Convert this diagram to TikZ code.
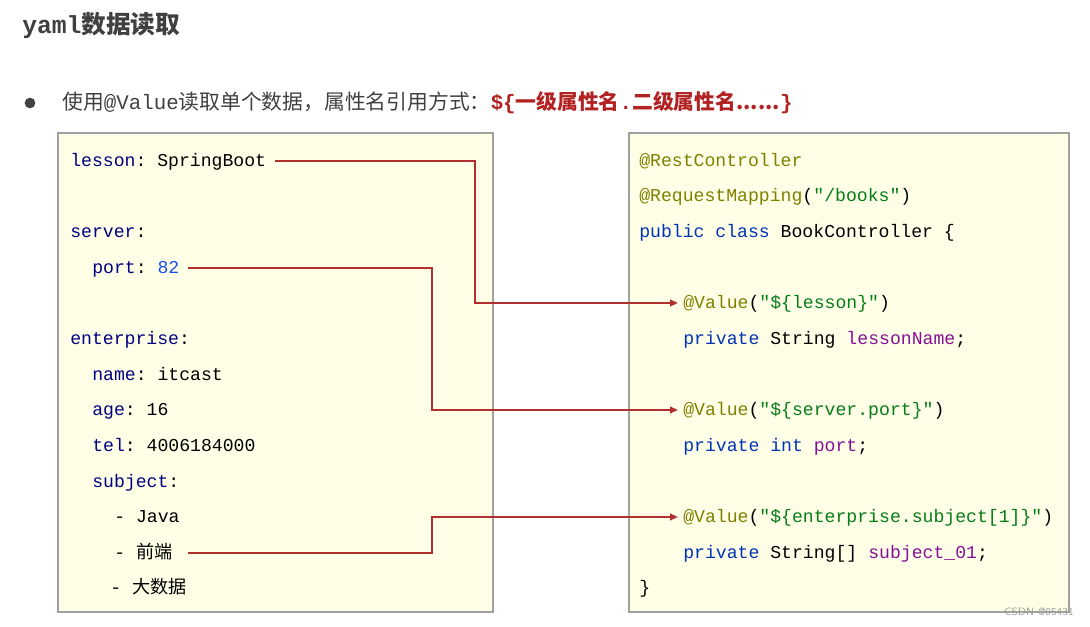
\documentclass[tikz,border=0pt]{standalone}
\usepackage{fontspec}
\setmonofont{Liberation Mono}
\newfontfamily\cjk{Noto Sans CJK SC}
\usetikzlibrary{arrows.meta}
\definecolor{boxfill}{HTML}{FFFFE8}
\definecolor{boxline}{HTML}{A0A0A0}
\definecolor{key}{HTML}{000080}
\definecolor{num}{HTML}{1750EB}
\definecolor{ann}{HTML}{808000}
\definecolor{str}{HTML}{067D17}
\definecolor{kw}{HTML}{0033B3}
\definecolor{fld}{HTML}{871094}
\definecolor{arr}{HTML}{B03030}
\definecolor{gray}{HTML}{404040}
\definecolor{red}{HTML}{B22222}
\begin{document}
\begin{tikzpicture}[x=0.75pt,y=-0.75pt,
  code/.style={anchor=base west,inner sep=0pt,font=\fontsize{13.6}{16}\ttfamily},
  box/.style={draw=boxline,fill=boxfill,line width=0.8pt},
  link/.style={draw=arr,line width=1.4pt,-{Triangle[length=6pt,width=5pt]}}]
\useasboundingbox (0,0) rectangle (1090,626);
\node[anchor=west,inner sep=0pt,text=gray,font=\fontsize{18.5}{20}\bfseries] (title) at (22,25) {\ttfamily yaml{\cjk\bfseries 数据读取}};
\node[circle,fill=gray,inner sep=0pt,minimum size=8pt] (bul) at (30,103) {};
\node[anchor=west,inner sep=0pt,text=gray,font=\fontsize{15.6}{18}\cjk] (intro) at (62,103) {使用{\ttfamily @Value}读取单个数据，属性名引用方式：\textcolor{red}{\bfseries{\ttfamily \$\{}一级属性名{\ttfamily .}二级属性名......{\ttfamily \}}}};
\draw[box] (58,133) rectangle (493,612);
\draw[box] (629,133) rectangle (1069,612);
% yaml
\node[code] (l1) at (70,166) {\textcolor{key}{lesson}: SpringBoot};
\node[code] (l2) at (70,237) {\textcolor{key}{server}:};
\node[code] (l3) at (92,273) {\textcolor{key}{port}: \textcolor{num}{82}};
\node[code] (l4) at (70,344) {\textcolor{key}{enterprise}:};
\node[code] (l5) at (92,380) {\textcolor{key}{name}: itcast};
\node[code] (l6) at (92,415) {\textcolor{key}{age}: 16};
\node[code] (l7) at (92,451) {\textcolor{key}{tel}: 4006184000};
\node[code] (l8) at (92,487) {\textcolor{key}{subject}:};
\node[code] (l9) at (114,522) {- Java};
\node[code] (l10) at (114,558) {- {\cjk 前端}};
\node[code] (l11) at (110,593) {- {\cjk 大数据}};
% java
\node[code] (r1) at (639,166) {\textcolor{ann}{@RestController}};
\node[code] (r2) at (639,201) {\textcolor{ann}{@RequestMapping}(\textcolor{str}{"/books"})};
\node[code] (r3) at (639,237) {\textcolor{kw}{public class} BookController \{};
\node[code] (r4) at (683,308) {\textcolor{ann}{@Value}(\textcolor{str}{"\$\{lesson\}"})};
\node[code] (r5) at (683,344) {\textcolor{kw}{private} String \textcolor{fld}{lessonName};};
\node[code] (r6) at (683,415) {\textcolor{ann}{@Value}(\textcolor{str}{"\$\{server.port\}"})};
\node[code] (r7) at (683,451) {\textcolor{kw}{private int} \textcolor{fld}{port};};
\node[code] (r8) at (683,522) {\textcolor{ann}{@Value}(\textcolor{str}{"\$\{enterprise.subject[1]\}"})};
\node[code] (r9) at (683,558) {\textcolor{kw}{private} String[] \textcolor{fld}{subject\_01};};
\node[code] (r10) at (639,593) {\}};
\node[anchor=east,inner sep=0pt,text=boxline,font=\fontsize{8}{9}\sffamily] (wm) at (1074,612) {CSDN @05431};
% links
\coordinate (c1) at (475,161);
\coordinate (c2) at (432,268);
\coordinate (c3) at (432,553);
\coordinate (t1) at (678,303);
\coordinate (t2) at (678,410);
\coordinate (t3) at (678,517);
\coordinate (s1) at (275,161);
\coordinate (s2) at (188,268);
\coordinate (s3) at (188,553);
\draw[link] (s1) -- (c1) |- (t1);
\draw[link] (s2) -- (c2) |- (t2);
\draw[link] (s3) -- (c3) |- (t3);
\end{tikzpicture}
\end{document}
